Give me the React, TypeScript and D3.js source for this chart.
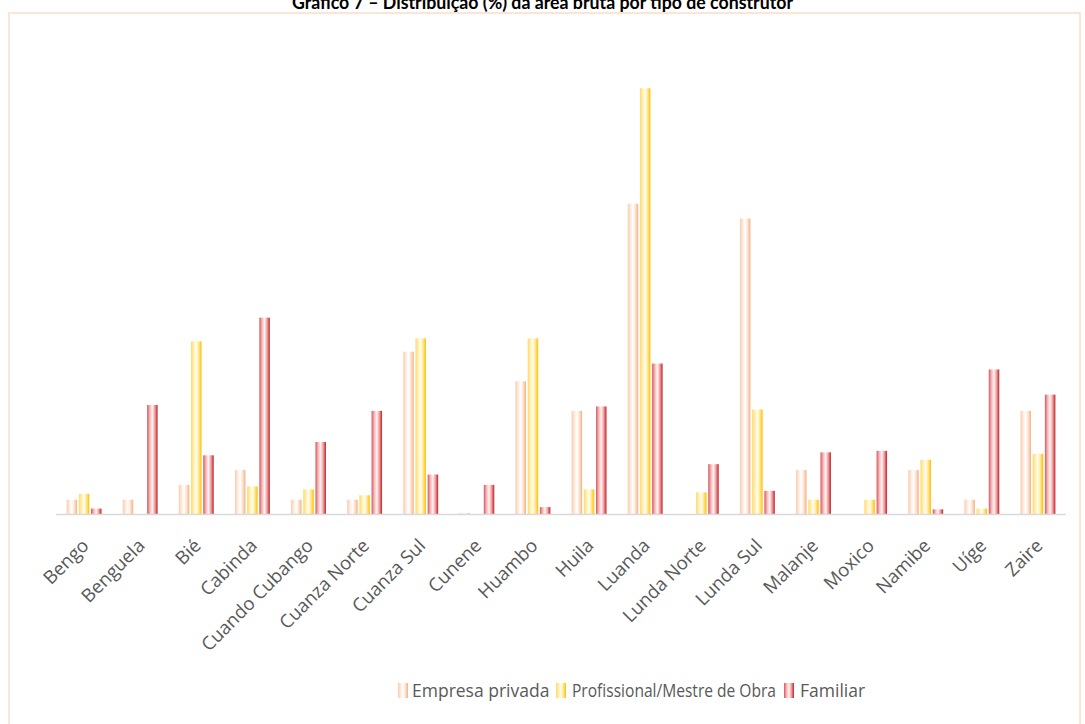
import React from "react";
import * as d3 from "d3";

const categories = [
  "Bengo", "Benguela", "Bié", "Cabinda", "Cuando Cubango", "Cuanza Norte",
  "Cuanza Sul", "Cunene", "Huambo", "Huila", "Luanda", "Lunda Norte",
  "Lunda Sul", "Malanje", "Moxico", "Namibe", "Uíge", "Zaire",
];
const seriesNames = ["Empresa privada", "Profissional/Mestre de Obra", "Familiar"];
const empresaPrivada = [1.0, 1.0, 2.0, 3.0, 1.0, 1.0, 11.0, 0.1, 9.0, 7.0, 21.0, 0, 20.0, 3.0, 0, 3.0, 1.0, 7.0];
const profissional = [1.4, 0, 11.7, 1.9, 1.7, 1.3, 11.9, 0, 11.9, 1.7, 28.8, 1.5, 7.1, 1.0, 1.0, 3.7, 0.4, 4.1];
const familiar = [0.4, 7.4, 4.0, 13.3, 4.9, 7.0, 2.7, 2.0, 0.5, 7.3, 10.2, 3.4, 1.6, 4.2, 4.3, 0.35, 9.8, 8.1];
const title = "Gráfico 7 – Distribuição (%) da área bruta por tipo de construtor";

const seriesValues = [empresaPrivada, profissional, familiar];
const gradients = [
  ["#F8CBAD", "#FDE9DC", "#FFFFFF", "#FBE0CD", "#F4B183"],
  ["#FFD966", "#FFEFB0", "#FFFDF2", "#FFE58A", "#FFC000"],
  ["#D9545E", "#F4B6B6", "#FFF4F4", "#EE9A9A", "#C0202A"],
];

export default function App() {
  const W = 1085, H = 724;
  const x0 = d3.scaleBand<string>().domain(categories).range([56, 1066]).paddingInner(0).paddingOuter(0);
  const x1 = d3.scaleBand<string>().domain(seriesNames).range([0, x0.bandwidth()]).paddingInner(0.14).paddingOuter(0.87);
  const y = d3.scaleLinear().domain([0, 30]).range([514.5, 70.5]);
  const font = "'Open Sans', sans-serif";

  const legendItems = [
    { name: seriesNames[0], x: 398, tx: 412, len: null as number | null },
    { name: seriesNames[1], x: 556, tx: 572, len: 204 as number | null },
    { name: seriesNames[2], x: 784, tx: 800, len: null as number | null },
  ];

  return (
    <svg width={W} height={H} style={{ position: "absolute", left: 0, top: 0, background: "#fff" }}>
      <defs>
        {gradients.map((g, i) => (
          <linearGradient key={i} id={`grad${i}`} x1="0" x2="1" y1="0" y2="0">
            {g.map((c, j) => (
              <stop key={j} offset={`${(j / (g.length - 1)) * 100}%`} stopColor={c} />
            ))}
          </linearGradient>
        ))}
      </defs>
      <rect x={0} y={0} width={W} height={H} fill="#fff" />
      <rect x={9} y={13} width={1071} height={720} fill="#fff" stroke="#FBE5D6" strokeWidth={2} />
      <text x={542.5} y={9} textAnchor="middle" fontFamily="Lato, 'Open Sans', sans-serif" fontWeight="bold"
        fontSize={18} fill="#000" textLength={501} lengthAdjust="spacingAndGlyphs">{title}</text>

      {categories.map((cat, ci) => (
        <g key={cat} transform={`translate(${x0(cat)},0)`}>
          {seriesNames.map((s, si) => {
            const v = seriesValues[si][ci];
            if (!v) return null;
            return (
              <rect key={s} x={x1(s)} y={y(v)} width={x1.bandwidth()} height={y(0) - y(v)} fill={`url(#grad${si})`} />
            );
          })}
        </g>
      ))}

      <line x1={56} x2={1066} y1={y(0)} y2={y(0)} stroke="#D9D9D9" strokeWidth={1.5} />

      {categories.map((cat) => {
        const cx = (x0(cat) as number) + x0.bandwidth() / 2;
        return (
          <text key={cat} transform={`translate(${cx - 4},${537}) rotate(-45)`} textAnchor="end" dy="0.75em"
            fontFamily={font} fontSize={18.5} fill="#595959">{cat}</text>
        );
      })}

      {legendItems.map((it, i) => (
        <g key={it.name}>
          <rect x={it.x} y={683} width={10} height={15} fill={`url(#grad${i})`} />
          {it.len ? (
            <text x={it.tx} y={697} fontFamily={font} fontSize={17.5} fill="#595959"
              textLength={it.len} lengthAdjust="spacingAndGlyphs">{it.name}</text>
          ) : (
            <text x={it.tx} y={697} fontFamily={font} fontSize={17.5} fill="#595959">{it.name}</text>
          )}
        </g>
      ))}
    </svg>
  );
}
